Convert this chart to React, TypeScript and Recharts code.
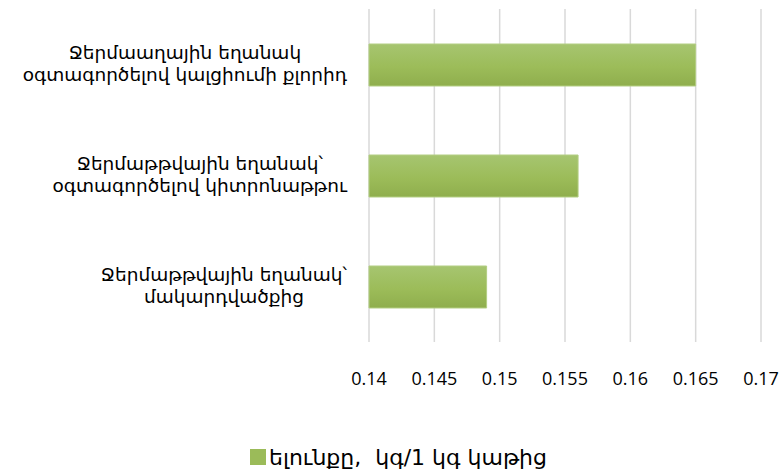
import React from "react";
import {
  BarChart,
  Bar,
  XAxis,
  YAxis,
  CartesianGrid,
  Legend,
} from "recharts";

// categories, top to bottom (line breaks as in the original labels)
const methods = [
  "Ջերմաաղային եղանակ\nօգտագործելով կալցիումի քլորիդ",
  "Ջերմաթթվային եղանակ՝\nօգտագործելով կիտրոնաթթու",
  "Ջերմաթթվային եղանակ՝\nմակարդվածքից",
];
const yieldValues = [0.165, 0.156, 0.149];
const xTicks = [0.14, 0.145, 0.15, 0.155, 0.16, 0.165, 0.17];
const seriesName = "ելունքը,  կգ/1 կգ կաթից";

const chartData = methods.map((name, i) => ({ name, value: yieldValues[i] }));

const LABEL_FONT = "18.5px 'DejaVu Sans'";
let measureCtx: CanvasRenderingContext2D | null = null;
const textWidth = (s: string) => {
  if (!measureCtx) measureCtx = document.createElement("canvas").getContext("2d");
  if (!measureCtx) return s.length * 10;
  measureCtx.font = LABEL_FONT;
  return measureCtx.measureText(s).width;
};

const CategoryTick = (props: any) => {
  const { x, y, payload } = props;
  const lines = String(payload.value).split("\n");
  const blockW = Math.max(...lines.map(textWidth));
  const cx = x - blockW / 2;
  return (
    <g>
      {lines.map((line, i) => (
        <text
          key={i}
          x={cx}
          y={y - 5.5 + i * 22}
          textAnchor="middle"
          fill="#000"
          style={{ font: LABEL_FONT }}
        >
          {line}
        </text>
      ))}
    </g>
  );
};

const renderLegend = () => (
  <div
    style={{
      height: 34,
      display: "flex",
      alignItems: "center",
      justifyContent: "center",
      paddingLeft: 36,
      fontFamily: "'DejaVu Sans'",
      fontSize: 22,
      color: "#000",
    }}
  >
    <span
      style={{
        display: "inline-block",
        width: 16,
        height: 16,
        background: "#9bbb59",
        marginRight: 3,
      }}
    />
    <span style={{ whiteSpace: "pre" }}>{seriesName}</span>
  </div>
);

export default function App() {
  return (
    <div style={{ position: "absolute", left: 0, top: 0, background: "#fff" }}>
      <BarChart
        width={784}
        height={474}
        data={chartData}
        layout="vertical"
        margin={{ top: 9, right: 23, left: 0, bottom: 0 }}
      >
        <defs>
          <linearGradient id="barFill" x1="0" y1="0" x2="0" y2="1">
            <stop offset="0%" stopColor="#a6c570" />
            <stop offset="55%" stopColor="#9cbc59" />
            <stop offset="100%" stopColor="#8fae4d" />
          </linearGradient>
        </defs>
        <CartesianGrid horizontal={false} stroke="#d9d9d9" strokeWidth={1.5} />
        <XAxis
          type="number"
          domain={[0.14, 0.17]}
          ticks={xTicks}
          interval={0}
          axisLine={false}
          tickLine={false}
          tickMargin={24}
          height={98}
          tick={{ fontSize: 18, fontFamily: "'Open Sans'", fill: "#000" }}
        />
        <YAxis
          type="category"
          dataKey="name"
          width={369}
          axisLine={false}
          tickLine={false}
          tickMargin={16}
          interval={0}
          tick={<CategoryTick />}
        />
        <Legend verticalAlign="bottom" content={renderLegend} />
        <Bar
          dataKey="value"
          name={seriesName}
          barSize={42}
          fill="url(#barFill)"
          stroke="#b3ce83"
          strokeWidth={1}
          isAnimationActive={false}
        />
      </BarChart>
    </div>
  );
}
